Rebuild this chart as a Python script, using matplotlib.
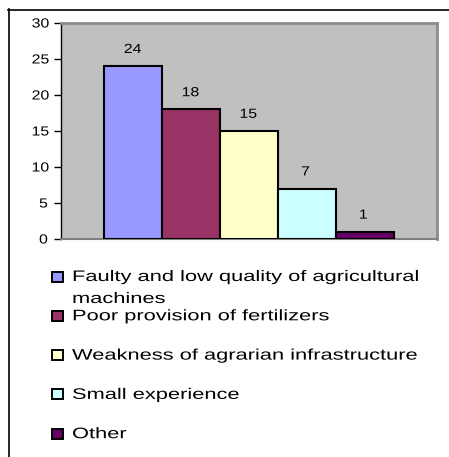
import matplotlib
matplotlib.use("Agg")
import matplotlib.pyplot as plt
from matplotlib.patches import Rectangle
from matplotlib.lines import Line2D
from matplotlib.patheffects import AbstractPathEffect
from matplotlib.transforms import Affine2D

plt.rcParams['font.family'] = ['Liberation Sans', 'DejaVu Sans']


class Widen(AbstractPathEffect):
    """Draw text glyphs horizontally widened about the text origin."""

    def __init__(self, sx):
        super().__init__()
        self.sx = sx

    def draw_path(self, renderer, gc, tpath, affine, rgbFace=None):
        renderer.draw_path(gc, tpath, Affine2D().scale(self.sx, 1.0) + affine, rgbFace)


categories = [
    "Faulty and low quality of agricultural\nmachines",
    "Poor provision of fertilizers",
    "Weakness of agrarian infrastructure",
    "Small experience",
    "Other",
]
values = [24, 18, 15, 7, 1]
colors = ["#9999FF", "#993366", "#FFFFCC", "#CCFFFF", "#660066"]
yticks = [0, 5, 10, 15, 20, 25, 30]

W, H = 449, 457
fig = plt.figure(figsize=(W / 100, H / 100), dpi=100)
fig.patch.set_facecolor("white")

num_fx = [Widen(1.2)]
leg_fx = [Widen(1.43)]

# plot area in pixel coordinates
left, right, top, bottom = 61, 437, 23, 239
ax = fig.add_axes([left / W, 1 - bottom / H, (right - left) / W, (bottom - top) / H])
ax.set_facecolor("#C0C0C0")

x = list(range(len(values)))
ax.bar(x, values, width=1.0, color=colors, edgecolor="black", linewidth=1.5, zorder=3)
for xi, v in zip(x, values):
    t = ax.annotate(str(v), (xi, v), xytext=(-1.5, 9.5), textcoords="offset points",
                    ha="center", va="baseline", fontsize=9.5)
    t.set_path_effects(num_fx)

ax.set_xlim(-1.25, 5.25)
ax.set_ylim(0, 30)
ax.set_yticks(yticks)
ax.set_xticks([])
ax.tick_params(axis="y", direction="out", length=5, width=1, labelsize=9.5, pad=5.5)
for lbl in ax.get_yticklabels():
    lbl.set_path_effects(num_fx)

for side in ("top", "right"):
    ax.spines[side].set_color("#8C8C8C")
    ax.spines[side].set_linewidth(2)
ax.spines["left"].set_color("black")
ax.spines["left"].set_linewidth(1)
ax.spines["bottom"].set_color("#808080")
ax.spines["bottom"].set_linewidth(1.5)

# outer frame lines
fig.add_artist(Line2D([8.5 / W, 8.5 / W], [0, 1 - 9 / H], color="black", linewidth=1.2,
                      transform=fig.transFigure))
fig.add_artist(Line2D([8 / W, 1], [1 - 9.5 / H, 1 - 9.5 / H], color="black", linewidth=1.2,
                      transform=fig.transFigure))

# legend
sq_w, sq_h = 11, 10
for i, (lab, col) in enumerate(zip(categories, colors)):
    base = 281 + 39.3 * i
    yc = base - 4.5
    fig.add_artist(Rectangle((52 / W, 1 - (yc + sq_h / 2) / H), sq_w / W, sq_h / H,
                             facecolor=col, edgecolor="black", linewidth=1.4,
                             transform=fig.transFigure))
    for j, ln in enumerate(lab.split("\n")):
        t = fig.text(72 / W, 1 - (base + 22 * j) / H, ln, fontsize=11,
                     ha="left", va="baseline")
        t.set_path_effects(leg_fx)

fig.savefig("out.png", dpi=100)
